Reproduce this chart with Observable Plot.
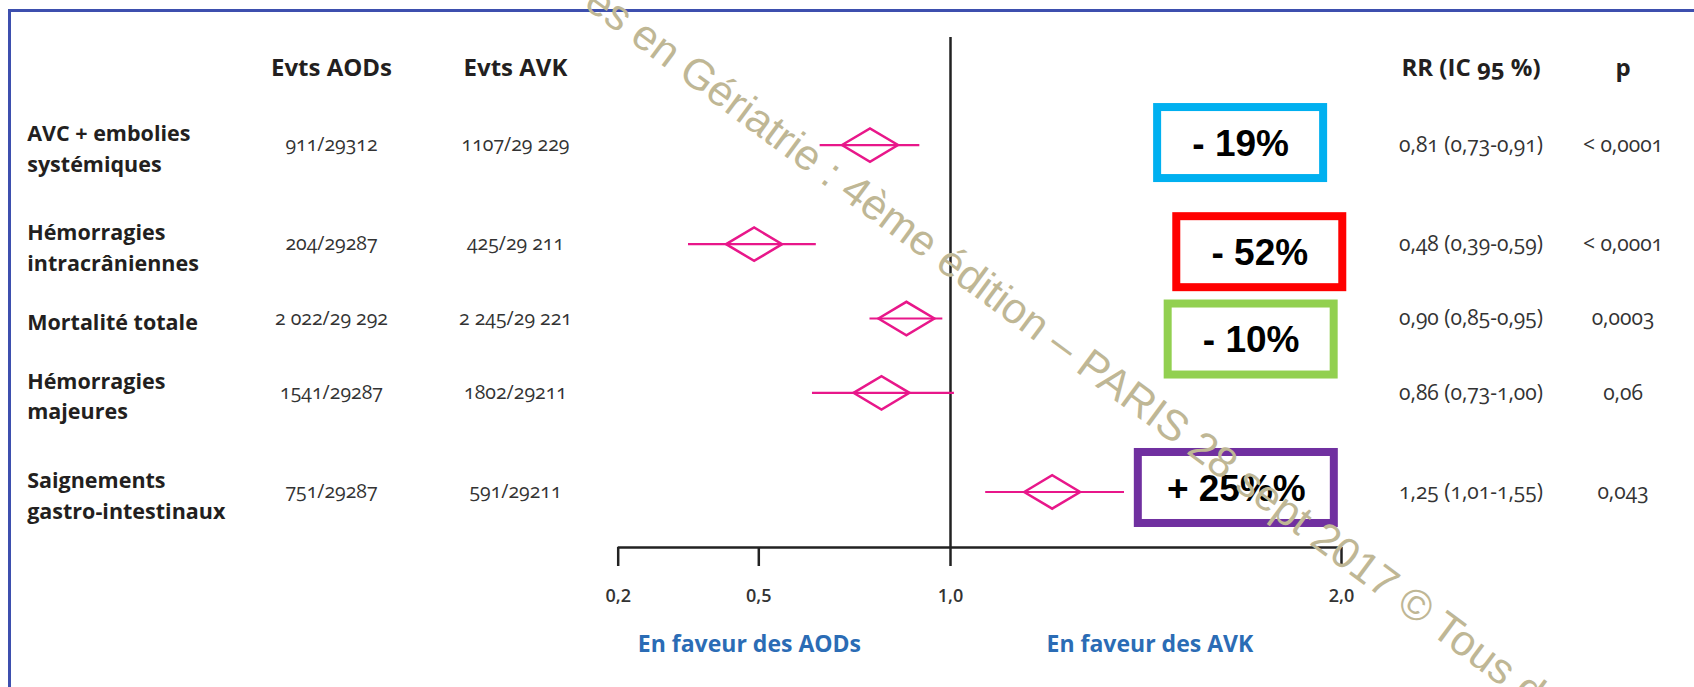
<!DOCTYPE html>
<html><head><meta charset="utf-8">
<script src="https://cdn.jsdelivr.net/npm/d3@7"></script>
<script src="https://cdn.jsdelivr.net/npm/@observablehq/plot@0.6"></script>
<style>
html,body{margin:0;padding:0;background:#fff;width:1694px;height:687px;overflow:hidden;}
#wrap{position:relative;width:1694px;height:687px;overflow:hidden;}
#border{position:absolute;left:8px;top:9px;width:2000px;height:1000px;border-left:3px solid #3D4FAE;border-top:3px solid #3D4FAE;}
#chart{position:absolute;left:0;top:0;}
</style></head><body><div id="wrap"><div id="border"></div><div id="chart"></div></div>
<script>
// ---- data ----
const outcomes = ["AVC + embolies\nsystémiques", "Hémorragies\nintracrâniennes", "Mortalité totale", "Hémorragies\nmajeures", "Saignements\ngastro-intestinaux"];
const evtsAOD = ["911/29312", "204/29287", "2 022/29 292", "1541/29287", "751/29287"];
const evtsAVK = ["1107/29 229", "425/29 211", "2 245/29 221", "1802/29211", "591/29211"];
const rrText = ["0,81 (0,73-0,91)", "0,48 (0,39-0,59)", "0,90 (0,85-0,95)", "0,86 (0,73-1,00)", "1,25 (1,01-1,55)"];
const pText = ["< 0,0001", "< 0,0001", "0,0003", "0,06", "0,043"];
// diamond centres and whisker ends as drawn on the (non-uniform) axis
const est = [0.79, 0.49, 0.885, 0.82, 1.26];
const lo = [0.66, 0.35, 0.79, 0.64, 1.09];
const hi = [0.92, 0.65, 0.98, 1.01, 1.445];
const headers = ["Evts AODs", "Evts AVK", "RR (IC 95 %)", "p"];
const tickValues = [0.2, 0.5, 1.0, 2.0];
const tickLabels = ["0,2", "0,5", "1,0", "2,0"];
const sideLabels = ["En faveur des AODs", "En faveur des AVK"];
const boxLabels = ["- 19%", "- 52%", "- 10%", "+ 25%%"];
const boxRows = [0, 1, 2, 4];
const watermark = "es en Gériatrie : 4ème édition – PARIS 28 sept 2017 © Tous d";

// ---- layout / style ----
const W = 1694, H = 687;
const xRange = [617.7, 758.3, 950, 1341];           // pixel positions of the axis ticks
const colX = {label: 26.7, aod: 331, avk: 515, rr: 1470.5, p: 1622.5};
const headerRow = -1.54;
const sideX = [0.48, 1.51];
const boxColors = ["#00B0F0", "#FF0000", "#92D050", "#7030A0"];
const boxX = [1.742, 1.791, 1.769, 1.731];
const boxDY = [-2, 8, 21, -4];
const pink = "#E8178A";
const dark = "#231F20";
const blue = "#2B6CB5";

const nLines = s => s.split("\n").length;
const rowPos = [];
outcomes.forEach((o, i) => rowPos.push(i === 0 ? 0 : rowPos[i - 1] + (nLines(outcomes[i - 1]) + nLines(o)) / 2));

const rows = outcomes.map((o, i) => ({
  o, y: rowPos[i], est: est[i], lo: lo[i], hi: hi[i],
  aod: evtsAOD[i], avk: evtsAVK[i], rr: rrText[i], p: pText[i]
}));

const yDomain = [-2.17, 8.12];

const wideDiamond = {
  draw(ctx, size) {
    const r = Math.sqrt(size / Math.PI);
    const w = r * 2.8, h = r * 1.67;
    ctx.moveTo(-w, 0); ctx.lineTo(0, -h); ctx.lineTo(w, 0); ctx.lineTo(0, h); ctx.closePath();
  }
};

const col = (field, cx, opts = {}) => Plot.text(rows, {
  frameAnchor: "left", dx: cx, y: "y", text: field,
  textAnchor: "middle", fontSize: 19.5, fill: "#333", ...opts
});

const boxMarks = boxLabels.flatMap((label, i) => {
  const d = {label, x: boxX[i], y: rowPos[boxRows[i]]};
  const w = label.length * 30 + 16, h = 71;
  return [
    Plot.rect([d], {x1: "x", x2: "x", y1: "y", y2: "y", dy: boxDY[i],
      insetLeft: -w / 2, insetRight: -w / 2, insetTop: -h / 2, insetBottom: -h / 2,
      fill: "white", stroke: boxColors[i], strokeWidth: 8}),
    Plot.text([d], {x: "x", y: "y", text: "label", dy: boxDY[i] + 1,
      fontSize: 37, fontWeight: "bold", fontFamily: "'Liberation Sans', Arial, sans-serif", fill: "#000"})
  ];
});

const plot = Plot.plot({
  width: W, height: H,
  marginLeft: 0, marginRight: 0, marginTop: 37, marginBottom: 140,
  style: {fontFamily: "'Open Sans', sans-serif", background: "transparent", fontVariantNumeric: "oldstyle-nums", overflow: "visible"},
  x: {type: "linear", domain: tickValues, range: xRange},
  y: {domain: yDomain, reverse: true, axis: null},
  marks: [
    // reference line at RR = 1
    Plot.ruleX([1], {stroke: "#222", strokeWidth: 2.5}),
    // axis baseline
    Plot.ruleY([yDomain[1]], {x1: tickValues[0], x2: tickValues[tickValues.length - 1], stroke: "#222", strokeWidth: 2.5}),
    Plot.axisX({ticks: tickValues, tickSize: 19, tickPadding: 23, label: null,
      tickFormat: d => tickLabels[tickValues.indexOf(d)],
      stroke: "#222", strokeWidth: 2.5, fill: "#333", fontSize: 18, fontWeight: 600}),
    // side labels
    Plot.text(sideLabels, {x: (d, i) => sideX[i], frameAnchor: "bottom", dy: 104, text: d => d,
      fill: blue, fontWeight: "bold", fontSize: 23}),
    // whiskers and diamonds
    Plot.ruleY(rows, {y: "y", x1: "lo", x2: "hi", stroke: pink, strokeWidth: 2.2}),
    Plot.dot(rows, {x: "est", y: "y", r: 10, symbol: wideDiamond, stroke: pink, strokeWidth: 2.5, fill: "none"}),
    // table columns
    Plot.text(rows, {frameAnchor: "left", dx: colX.label, y: "y", text: "o", dy: 1.5,
      textAnchor: "start", fontWeight: "bold", fontSize: 21.5, lineHeight: 1.42, fill: dark}),
    col("aod", colX.aod),
    col("avk", colX.avk),
    col("rr", colX.rr, {fontSize: 21}),
    col("p", colX.p, {fontSize: 21}),
    // headers
    ...headers.map((h, i) => Plot.text([h], {frameAnchor: "left", dx: [colX.aod, colX.avk, colX.rr, colX.p][i],
      y: () => headerRow, text: d => d, textAnchor: "middle", fontWeight: "bold", fontSize: 24, fill: dark})),
    // annotation boxes
    ...boxMarks,
    // watermark
    Plot.text([watermark], {frameAnchor: "top-left", dx: 582, dy: -31, text: d => d, rotate: 36.5,
      textAnchor: "start", lineAnchor: "bottom", fontSize: 43, fill: "#BFB795",
      fontFamily: "'Liberation Sans', Arial, sans-serif"})
  ]
});
document.getElementById("chart").appendChild(plot);
</script>
</body></html>
